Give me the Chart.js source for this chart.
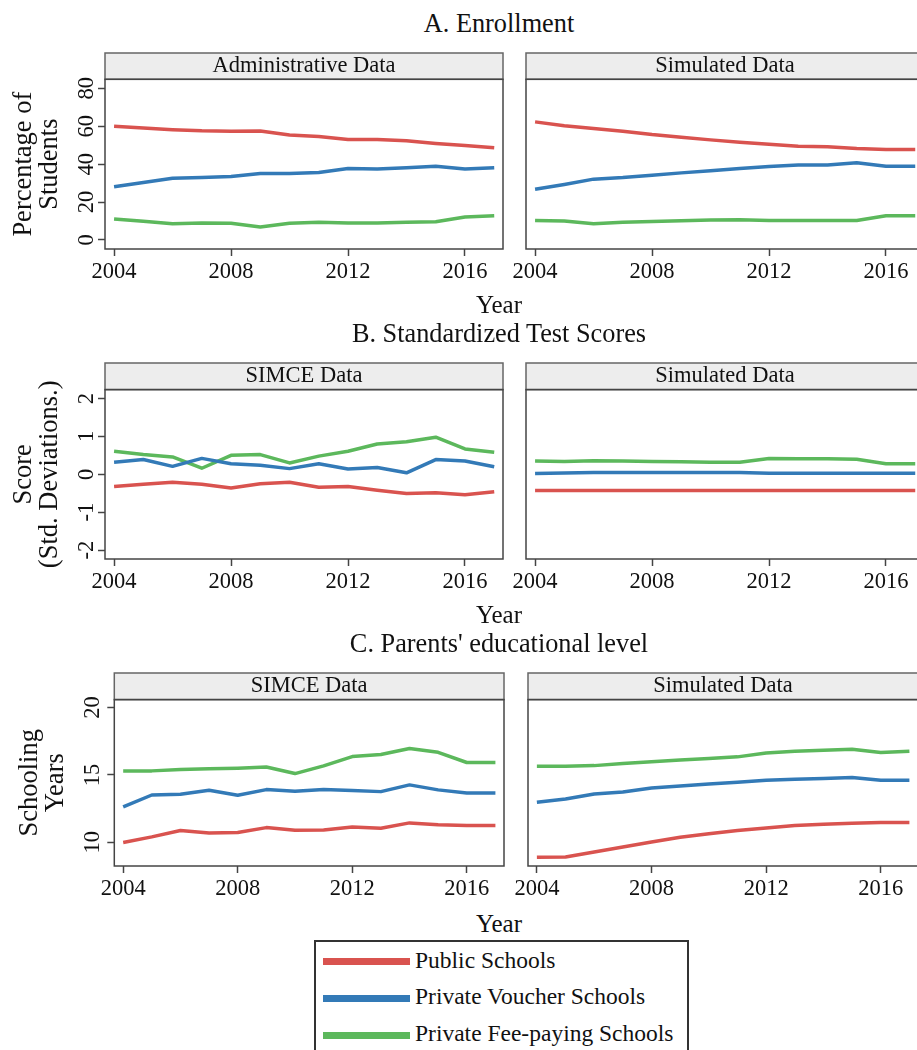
<!DOCTYPE html>
<html>
<head>
<meta charset="utf-8">
<script src="https://cdn.jsdelivr.net/npm/chart.js@4.4.1/dist/chart.umd.min.js"></script>
<style>
  html, body { margin: 0; padding: 0; background: #fff; }
  #fig { position: relative; width: 917px; height: 1050px; overflow: hidden;
         font-family: "Liberation Serif", "Times New Roman", serif; color: #111; }
  #fig canvas { position: absolute; }
  .label { position: absolute; left: 0; width: 998px; text-align: center; line-height: 1; white-space: nowrap; }
  .legbox { position: absolute; box-sizing: border-box; border: 2px solid #333; background: #fff; }
  .legline { position: absolute; height: 7px; }
  .legtext { position: absolute; line-height: 1; white-space: nowrap; font-size: 23.5px; }
</style>
</head>
<body>
<div id="fig"></div>
<script>
// ---- data -------------------------------------------------------------
const years = [2004, 2005, 2006, 2007, 2008, 2009, 2010, 2011, 2012, 2013, 2014, 2015, 2016, 2017];
const xTicks = [2004, 2008, 2012, 2016];

const seriesNames = ['Public Schools', 'Private Voucher Schools', 'Private Fee-paying Schools'];
const seriesColors = ['#d9534f', '#337ab7', '#5cb85c'];

// A. Enrollment (% of students)
const adminPublic  = [60.0, 59.1, 58.2, 57.6, 57.4, 57.5, 55.4, 54.6, 53.0, 53.0, 52.3, 50.9, 49.8, 48.6];
const adminVoucher = [28.1, 30.3, 32.6, 32.9, 33.5, 35.1, 35.1, 35.6, 37.7, 37.5, 38.1, 38.9, 37.4, 38.1];
const adminFee     = [11.1, 9.9, 8.6, 8.9, 8.8, 6.8, 8.8, 9.3, 8.9, 8.9, 9.3, 9.6, 12.1, 12.8];
const simEnrollPublic  = [62.3, 60.2, 58.8, 57.4, 55.6, 54.2, 52.8, 51.6, 50.5, 49.5, 49.2, 48.2, 47.7, 47.7];
const simEnrollVoucher = [26.8, 29.3, 32.1, 32.9, 34.2, 35.4, 36.5, 37.7, 38.8, 39.5, 39.6, 40.7, 38.9, 38.9];
const simEnrollFee     = [10.3, 10.0, 8.6, 9.3, 9.8, 10.2, 10.5, 10.7, 10.3, 10.3, 10.3, 10.3, 12.8, 12.8];
const enrollTicks = [0, 20, 40, 60, 80];

// B. Standardized test scores (std. deviations)
const simceScorePublic  = [-0.32, -0.26, -0.21, -0.26, -0.36, -0.25, -0.21, -0.34, -0.32, -0.42, -0.51, -0.49, -0.54, -0.46];
const simceScoreVoucher = [0.32, 0.39, 0.21, 0.42, 0.28, 0.24, 0.15, 0.28, 0.14, 0.18, 0.04, 0.39, 0.35, 0.20];
const simceScoreFee     = [0.61, 0.52, 0.46, 0.16, 0.50, 0.52, 0.30, 0.48, 0.61, 0.80, 0.86, 0.98, 0.67, 0.58];
const simScorePublic  = [-0.43, -0.43, -0.43, -0.43, -0.43, -0.43, -0.43, -0.43, -0.43, -0.43, -0.43, -0.43, -0.43, -0.43];
const simScoreVoucher = [0.02, 0.035, 0.05, 0.05, 0.05, 0.05, 0.05, 0.05, 0.03, 0.03, 0.03, 0.03, 0.03, 0.03];
const simScoreFee     = [0.35, 0.34, 0.36, 0.35, 0.34, 0.33, 0.32, 0.32, 0.42, 0.41, 0.41, 0.40, 0.28, 0.28];
const scoreTicks = [-2, -1, 0, 1, 2];

// C. Parents' educational level (schooling years)
const simceEduPublic  = [9.98, 10.40, 10.87, 10.69, 10.72, 11.09, 10.89, 10.92, 11.14, 11.04, 11.44, 11.31, 11.24, 11.24];
const simceEduVoucher = [12.62, 13.51, 13.56, 13.86, 13.49, 13.91, 13.79, 13.91, 13.84, 13.76, 14.26, 13.89, 13.66, 13.66];
const simceEduFee     = [15.30, 15.30, 15.40, 15.45, 15.50, 15.59, 15.10, 15.67, 16.36, 16.51, 16.96, 16.68, 15.92, 15.92];
const simEduPublic  = [8.89, 8.91, 9.28, 9.65, 10.02, 10.37, 10.64, 10.87, 11.06, 11.24, 11.34, 11.41, 11.46, 11.46];
const simEduVoucher = [12.97, 13.22, 13.59, 13.74, 14.03, 14.18, 14.33, 14.46, 14.60, 14.68, 14.73, 14.80, 14.60, 14.60];
const simEduFee     = [15.64, 15.64, 15.69, 15.84, 15.97, 16.11, 16.21, 16.34, 16.63, 16.76, 16.83, 16.91, 16.66, 16.76];
const eduTicks = [10, 15, 20];

// ---- drawing ----------------------------------------------------------
const SERIF = '"Liberation Serif", "Times New Roman", serif';
const fig = document.getElementById('fig');

// grey strip behind the panel caption and the box round each plot region
const panelFrame = {
  id: 'panelFrame',
  beforeDraw(chart) {
    const ctx = chart.ctx, a = chart.chartArea, tb = chart.titleBlock;
    ctx.save();
    ctx.globalCompositeOperation = 'destination-over';
    ctx.fillStyle = '#ededed';
    ctx.fillRect(a.left, tb.top, a.right - a.left, a.top - tb.top);
    ctx.restore();
  },
  afterDraw(chart) {
    const ctx = chart.ctx, a = chart.chartArea, tb = chart.titleBlock;
    ctx.save();
    ctx.lineWidth = 1.5;
    ctx.strokeStyle = '#666';
    ctx.strokeRect(a.left, tb.top, a.right - a.left, a.top - tb.top);
    ctx.strokeStyle = '#444';
    ctx.strokeRect(a.left, a.top, a.right - a.left, a.bottom - a.top);
    ctx.restore();
  }
};

function panel(p) {
  const showY = !!p.yTitle;
  const canvasLeft = showY ? 0 : p.plotLeft - 30;
  const canvasTop = p.headerTop - 3;
  const W = p.plotRight - canvasLeft + 6;
  const H = p.plotBottom - canvasTop + 44;
  const cv = document.createElement('canvas');
  cv.width = W; cv.height = H;
  cv.style.left = canvasLeft + 'px';
  cv.style.top = canvasTop + 'px';
  fig.appendChild(cv);
  const headH = p.plotTop - p.headerTop;

  new Chart(cv, {
    type: 'line',
    data: {
      datasets: p.series.map((vals, i) => ({
        label: seriesNames[i],
        data: years.map((yr, k) => ({ x: yr, y: vals[k] })),
        borderColor: seriesColors[i],
        borderWidth: 3.5,
        borderJoinStyle: 'round',
        pointRadius: 0,
        tension: 0,
        fill: false
      }))
    },
    options: {
      responsive: false,
      animation: false,
      devicePixelRatio: 1,
      layout: { padding: { left: showY ? 0 : p.plotLeft - canvasLeft, right: 6, top: 3, bottom: 4 } },
      plugins: {
        legend: { display: false },
        tooltip: { enabled: false },
        title: {
          display: true, text: p.header, fullSize: false, color: '#111',
          font: { family: SERIF, size: 22.5, weight: 'normal', lineHeight: 1 },
          padding: { top: (headH - 22.5) / 2, bottom: (headH - 22.5) / 2 }
        }
      },
      scales: {
        x: {
          type: 'linear', min: 2003.69, max: 2017.3,
          afterBuildTicks: s => { s.ticks = xTicks.map(v => ({ value: v })); },
          afterFit: s => { s.height = 40; },
          border: { display: false },
          grid: { drawOnChartArea: false, tickLength: 7, tickColor: '#444', tickWidth: 1.5 },
          ticks: {
            autoSkip: false, minRotation: 0, maxRotation: 0, padding: 2.3, color: '#111',
            font: { family: SERIF, size: 22.5 },
            callback: v => String(v)
          }
        },
        y: {
          type: 'linear', display: showY, min: p.yMin, max: p.yMax,
          afterBuildTicks: s => { s.ticks = p.yTicks.map(v => ({ value: v })); },
          afterFit: s => { s.width = showY ? p.plotLeft : 0; },
          border: { display: false },
          grid: { drawOnChartArea: false, tickLength: 7, tickColor: '#444', tickWidth: 1.5 },
          ticks: {
            minRotation: 90, maxRotation: 90, crossAlign: 'center', padding: p.yTickPad || 0,
            color: '#111', font: { family: SERIF, size: 22.5 },
            callback: v => String(v)
          },
          title: {
            display: showY, text: p.yTitle || '', color: '#111',
            font: { family: SERIF, size: 26.5, lineHeight: 1 },
            padding: { top: p.yTitlePad || 0, bottom: 0 }
          }
        }
      }
    },
    plugins: [panelFrame]
  });
}

// row A
panel({ header: 'Administrative Data', yTitle: ['Percentage of', 'Students'], yTitlePad: 10.5, yTickPad: 0,
        series: [adminPublic, adminVoucher, adminFee], yTicks: enrollTicks, yMin: -4.75, yMax: 84.75,
        plotLeft: 105, plotRight: 503, headerTop: 53, plotTop: 79.3, plotBottom: 249 });
panel({ header: 'Simulated Data',
        series: [simEnrollPublic, simEnrollVoucher, simEnrollFee], yTicks: enrollTicks, yMin: -4.75, yMax: 84.75,
        plotLeft: 526, plotRight: 924, headerTop: 53, plotTop: 79.3, plotBottom: 249 });
// row B
panel({ header: 'SIMCE Data', yTitle: ['Score', '(Std. Deviations.)'], yTitlePad: 10.5, yTickPad: 1.8,
        series: [simceScorePublic, simceScoreVoucher, simceScoreFee], yTicks: scoreTicks, yMin: -2.237, yMax: 2.237,
        plotLeft: 105, plotRight: 503, headerTop: 362.7, plotTop: 389.3, plotBottom: 559 });
panel({ header: 'Simulated Data',
        series: [simScorePublic, simScoreVoucher, simScoreFee], yTicks: scoreTicks, yMin: -2.237, yMax: 2.237,
        plotLeft: 526, plotRight: 924, headerTop: 362.7, plotTop: 389.3, plotBottom: 559 });
// row C
panel({ header: 'SIMCE Data', yTitle: ['Schooling', 'Years'], yTitlePad: 16.5, yTickPad: 2.5,
        series: [simceEduPublic, simceEduVoucher, simceEduFee], yTicks: eduTicks, yMin: 8.24, yMax: 20.59,
        plotLeft: 114.3, plotRight: 504.3, headerTop: 672.7, plotTop: 699.3, plotBottom: 865.7 });
panel({ header: 'Simulated Data',
        series: [simEduPublic, simEduVoucher, simEduFee], yTicks: eduTicks, yMin: 8.24, yMax: 20.59,
        plotLeft: 528.3, plotRight: 918.3, headerTop: 672.7, plotTop: 699.3, plotBottom: 865.7 });

// ---- figure-level text ------------------------------------------------
function label(text, size, baseline) {
  const d = document.createElement('div');
  d.className = 'label';
  d.textContent = text;
  d.style.fontSize = size + 'px';
  d.style.top = (baseline - 0.8375 * size) + 'px';
  fig.appendChild(d);
}
label('A. Enrollment', 26.3, 33.3);
label('Year', 25, 313.3);
label('B. Standardized Test Scores', 26.3, 343.3);
label('Year', 25, 623.3);
label("C. Parents' educational level", 26.3, 652.7);
label('Year', 25, 931.7);

// ---- shared legend ----------------------------------------------------
const box = document.createElement('div');
box.className = 'legbox';
Object.assign(box.style, { left: '314px', top: '939.5px', width: '375px', height: '160px' });
fig.appendChild(box);
seriesNames.forEach((name, i) => {
  const base = 968.3 + i * 36.7;
  const ln = document.createElement('div');
  ln.className = 'legline';
  Object.assign(ln.style, { left: '322.7px', width: '87.3px', top: (base - 6.6 - 3.5) + 'px', background: seriesColors[i] });
  fig.appendChild(ln);
  const tx = document.createElement('div');
  tx.className = 'legtext';
  tx.textContent = name;
  Object.assign(tx.style, { left: '415px', top: (base - 0.8375 * 23.5) + 'px' });
  fig.appendChild(tx);
});
</script>
</body>
</html>
